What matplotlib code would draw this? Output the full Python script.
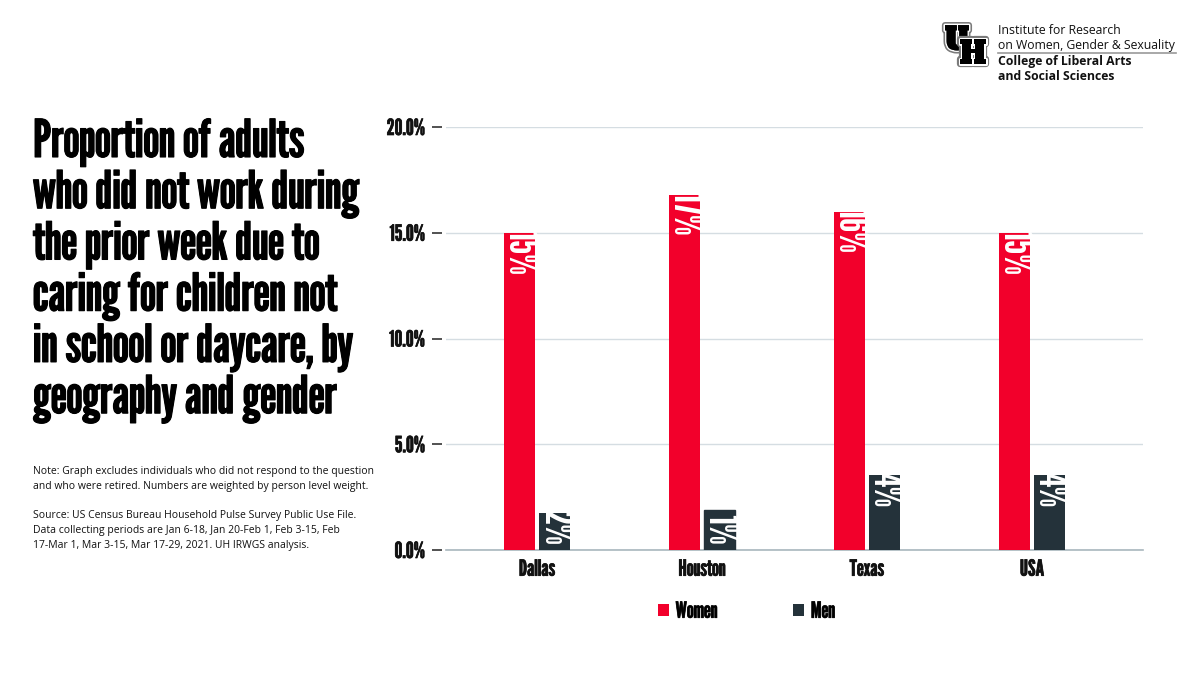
import numpy as np
import matplotlib
matplotlib.use("Agg")
import matplotlib.pyplot as plt
import matplotlib.patheffects as pe
from matplotlib.patches import Rectangle
from matplotlib.ticker import FuncFormatter

# data
places = ["Dallas", "Houston", "Texas", "USA"]
women = [15.0, 16.8, 16.0, 15.0]
men = [1.75, 0.9, 3.55, 3.55]
women_lbl = ["15%", "17%", "16%", "15%"]
men_lbl = ["2%", "1%", "4%", "4%"]

RED = "#F2002B"
DARK = "#24323A"
COND = ["League Gothic", "Oswald", "Roboto Condensed", "DejaVu Sans"]
BODY = ["Open Sans", "DejaVu Sans"]


def bold(c, lw=1.0):
    return [pe.withStroke(linewidth=lw, foreground=c)]


fig = plt.figure(figsize=(12, 6.76), dpi=100)
ax = fig.add_axes([446 / 1200, 1 - 550 / 676, (1143 - 446) / 1200, (550 - 127) / 676])

x = np.arange(len(places))
w = 0.188
gap = 0.012
b1 = ax.bar(x - w / 2 - gap, women, w, color=RED, zorder=3)
b2 = ax.bar(x + w / 2 + gap, men, w, color=DARK, zorder=3)

short = []  # labels that do not fit inside their bar
for bars, labels in [(b1, women_lbl), (b2, men_lbl)]:
    for b, lab in zip(bars, labels):
        cx = b.get_x() + b.get_width() / 2
        h = b.get_height()
        if h < 1.5:
            t = ax.text(cx, 0.22, lab, rotation=-90, ha="center", va="bottom",
                        color="white", fontsize=30, family=COND, zorder=5)
            short.append((b, t))
        else:
            t = ax.text(cx, h + 0.15, lab, rotation=-90, ha="center", va="top",
                        color="white", fontsize=30, family=COND, zorder=4)
            t.set_clip_path(b)

ax.set_ylim(0, 20)
ax.set_xlim(-0.5515, 3.673)
ax.set_yticks([0, 5, 10, 15, 20])
ax.yaxis.set_major_formatter(FuncFormatter(lambda v, p: f"{v:.1f}%"))
ax.grid(axis="y", color="#D5DDE2", linewidth=1, zorder=0)
ax.set_xticks(x)
ax.set_xticklabels(places)
ax.tick_params(axis="x", length=0, pad=7, labelsize=16, labelfontfamily=COND, labelcolor="#111111")
ax.tick_params(axis="y", length=7.2, width=1.2, color="#333333", pad=5, direction="out",
               labelsize=16, labelfontfamily=COND, labelcolor="#111111")
for s in ["top", "right"]:
    ax.spines[s].set_visible(False)
ax.spines["left"].set_position(("outward", 3))
ax.spines["left"].set_visible(False)
ax.spines["bottom"].set_color("#A9B7BE")
ax.spines["bottom"].set_linewidth(1.2)

# legend
leg = ax.legend([b1, b2], ["Women", "Men"], loc="center",
                bbox_to_anchor=(0.431, -0.146), ncol=2, frameon=False,
                handlelength=0.5, handleheight=0.5, columnspacing=3.4,
                handletextpad=0.3, prop=dict(family=COND, size=16))
for t in leg.get_texts():
    t.set_path_effects(bold("#111111", 0.5))

# title
fig.text(33 / 1200, 1 - 119 / 676,
         "Proportion of adults\nwho did not work during\nthe prior week due to\n"
         "caring for children not\nin school or daycare, by\ngeography and gender",
         ha="left", va="top", fontsize=37.5, family=COND,
         color="#000000", linespacing=1.085, path_effects=bold("black", 0.8))

# notes
fig.text(33 / 1200, 1 - 466 / 676,
         "Note: Graph excludes individuals who did not respond to the question\n"
         "and who were retired. Numbers are weighted by person level weight.",
         ha="left", va="top", fontsize=7.45, family=BODY, color="#111111", linespacing=1.5)
fig.text(33 / 1200, 1 - 510 / 676,
         "Source: US Census Bureau Household Pulse Survey Public Use File.\n"
         "Data collecting periods are Jan 6-18, Jan 20-Feb 1, Feb 3-15, Feb\n"
         "17-Mar 1, Mar 3-15, Mar 17-29, 2021. UH IRWGS analysis.",
         ha="left", va="top", fontsize=7.45, family=BODY, color="#111111", linespacing=1.5)

# logo: interlocked U and H
logo_fx = [pe.withStroke(linewidth=4.5, foreground="#7a7a7a"),
           pe.withStroke(linewidth=2.2, foreground="white"),
           pe.Normal()]
fig.text(957 / 1200, 1 - 41 / 676, "U", ha="center", va="center", fontsize=23,
         family=["Alfa Slab One", "DejaVu Serif"], color="black", path_effects=logo_fx)
fig.text(973 / 1200, 1 - 55 / 676, "H", ha="center", va="center", fontsize=23,
         family=["Alfa Slab One", "DejaVu Serif"], color="black", path_effects=logo_fx)
fig.text(998 / 1200, 1 - 31 / 676, "Institute for Research", ha="left", va="center",
         fontsize=8.8, family=BODY, color="#111111")
fig.text(998 / 1200, 1 - 45 / 676, "on Women, Gender & Sexuality", ha="left", va="center",
         fontsize=8.8, family=BODY, color="#111111")
fig.add_artist(plt.Line2D([998 / 1200, 1176 / 1200], [1 - 53 / 676, 1 - 53 / 676],
                          color="#999999", linewidth=1.2))
fig.text(998 / 1200, 1 - 62 / 676, "College of Liberal Arts", ha="left", va="center",
         fontsize=8.8, fontweight="bold", family=BODY, color="#111111")
fig.text(998 / 1200, 1 - 76 / 676, "and Social Sciences", ha="left", va="center",
         fontsize=8.8, fontweight="bold", family=BODY, color="#111111")

fig.canvas.draw()
for lab in ax.get_xticklabels() + ax.get_yticklabels():
    lab.set_path_effects(bold("#111111", 0.5))

# background box for labels taller than their bar, as wide as the bar
inv = ax.transData.inverted()
for b, t in short:
    ext = t.get_window_extent()
    top = inv.transform((0, ext.y1))[1] + 0.2
    box = Rectangle((b.get_x(), 0), b.get_width(), top, color=b.get_facecolor(), zorder=4)
    ax.add_patch(box)
    t.set_clip_path(box)

fig.savefig("out.png", dpi=100)
